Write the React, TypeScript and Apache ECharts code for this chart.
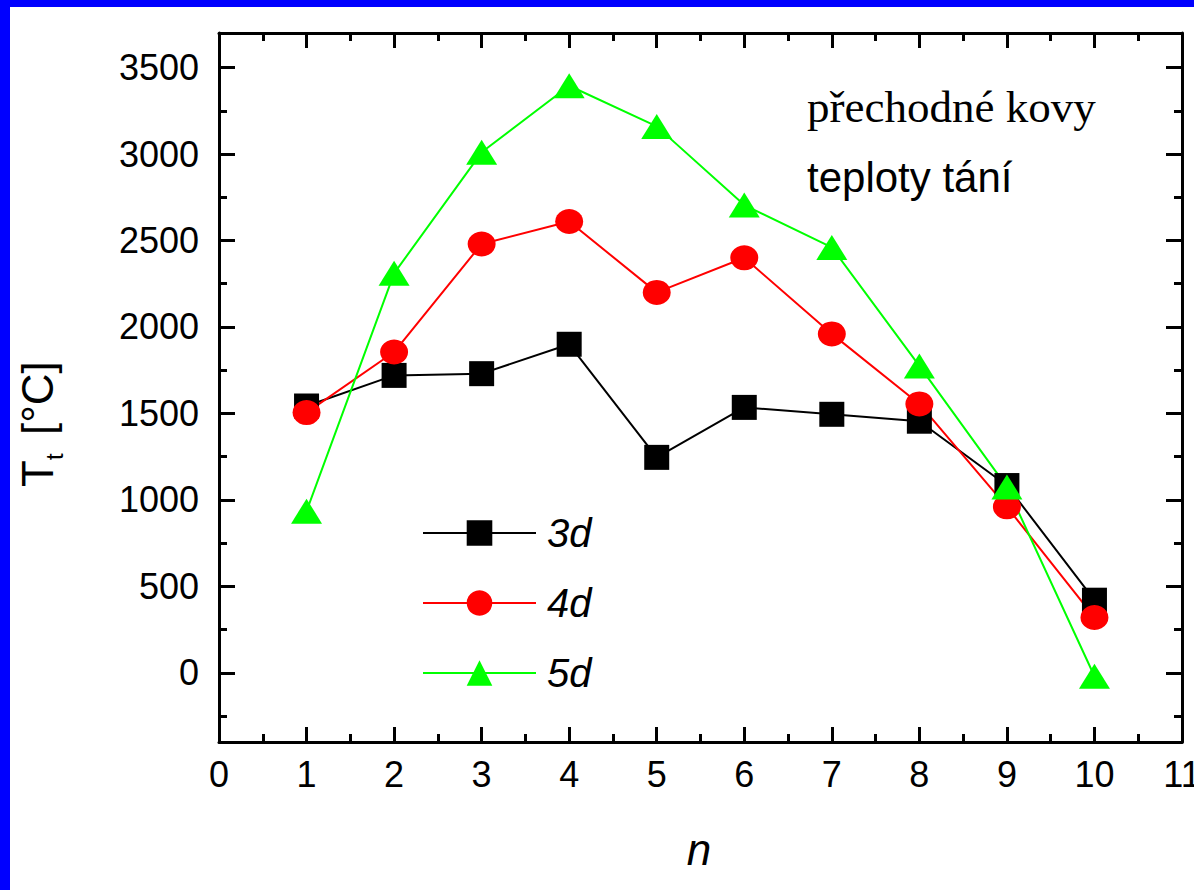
import React, { useEffect, useRef } from "react";
import * as echarts from "echarts";

const nValues = [1, 2, 3, 4, 5, 6, 7, 8, 9, 10];
const temp3d = [1543, 1720, 1730, 1900, 1246, 1535, 1495, 1455, 1083, 420];
const temp4d = [1505, 1855, 2480, 2610, 2200, 2400, 1960, 1555, 960, 320];
const temp5d = [935, 2310, 3010, 3395, 3160, 2705, 2460, 1775, 1075, -20];
const seriesNames = ["3d", "4d", "5d"];
const seriesColors = ["#000000", "#FF0000", "#00FF00"];

const FONT = "Liberation Sans";

export default function App() {
  const ref = useRef<HTMLDivElement>(null);
  useEffect(() => {
    if (!ref.current) return;
    const chart = echarts.init(ref.current, undefined, { renderer: "svg" });
    const axisLine = { show: true, onZero: false, lineStyle: { color: "#000", width: 3 } };
    const noLine = { show: false, onZero: false };
    const majorX = { show: true, inside: true, length: 15, lineStyle: { color: "#000", width: 3 } };
    const minorX = { show: true, splitNumber: 2, length: 8, lineStyle: { color: "#000", width: 3 } };
    const yBase = { type: "value", min: -400, max: 3700, splitLine: { show: false } };
    const pairs = (ys: number[]) => nValues.map((n, i) => [n, ys[i]]);
    const option: any = {
      animation: false,
      backgroundColor: "#fff",
      textStyle: { fontFamily: FONT },
      grid: { left: 219, right: 12, top: 33, bottom: 148, outerBoundsMode: "none", containLabel: false },
      xAxis: [
        {
          type: "value", position: "bottom", min: 0, max: 11, interval: 1,
          axisLine, axisTick: majorX, minorTick: minorX, splitLine: { show: false },
          axisLabel: { fontSize: 36, color: "#000", fontFamily: FONT, margin: 14 },
        },
        {
          type: "value", position: "top", min: 0, max: 11, interval: 1,
          axisLine, axisTick: majorX, minorTick: minorX, splitLine: { show: false },
          axisLabel: { show: false },
        },
      ],
      yAxis: [
        {
          ...yBase, position: "left", minInterval: 500, maxInterval: 500,
          axisLine, axisTick: { show: true, inside: true, length: 16, lineStyle: { color: "#000", width: 3 } },
          axisLabel: {
            fontSize: 36, color: "#000", fontFamily: FONT, margin: 20,
            formatter: (v: number) => (v % 500 === 0 ? String(v) : ""),
          },
        },
        {
          ...yBase, position: "left", minInterval: 250, maxInterval: 250,
          axisLine: noLine,
          axisTick: { show: true, inside: true, length: 8, lineStyle: { color: "#000", width: 3 } },
          axisLabel: { show: false },
        },
        {
          ...yBase, position: "right", minInterval: 500, maxInterval: 500,
          axisLine, axisTick: { show: true, inside: true, length: 16, lineStyle: { color: "#000", width: 3 } },
          axisLabel: { show: false },
        },
        {
          ...yBase, position: "right", minInterval: 250, maxInterval: 250,
          axisLine: noLine,
          axisTick: { show: true, inside: true, length: 8, lineStyle: { color: "#000", width: 3 } },
          axisLabel: { show: false },
        },
      ],
      legend: {
        orient: "vertical", left: 417, top: 508, itemWidth: 113, itemHeight: 32, itemGap: 30,
        data: seriesNames,
        textStyle: { fontSize: 40, fontStyle: "italic", color: "#000", fontFamily: FONT, padding: [0, 0, 0, 6] },
      },
      series: [
        {
          name: seriesNames[0], type: "line", data: pairs(temp3d), symbol: "rect", symbolSize: 25,
          lineStyle: { width: 2, color: seriesColors[0] }, itemStyle: { color: seriesColors[0] },
        },
        {
          name: seriesNames[1], type: "line", data: pairs(temp4d), symbol: "circle", symbolSize: [28, 25],
          lineStyle: { width: 2, color: seriesColors[1] }, itemStyle: { color: seriesColors[1] },
        },
        {
          name: seriesNames[2], type: "line", data: pairs(temp5d), symbol: "triangle", symbolSize: [31, 25],
          lineStyle: { width: 2, color: seriesColors[2] }, itemStyle: { color: seriesColors[2] },
        },
      ],
      graphic: [
        { type: "rect", left: 0, top: 0, shape: { width: 1194, height: 7 }, style: { fill: "#0000FF" }, silent: true },
        { type: "rect", left: 0, top: 0, shape: { width: 10, height: 890 }, style: { fill: "#0000FF" }, silent: true },
        {
          type: "text", x: 807, y: 107,
          style: { text: "přechodné kovy", fontFamily: "Liberation Serif", fontSize: 45, fill: "#000", align: "left", verticalAlign: "middle" },
        },
        {
          type: "text", x: 807, y: 177,
          style: { text: "teploty tání", fontFamily: FONT, fontSize: 42, fill: "#000", align: "left", verticalAlign: "middle" },
        },
        {
          type: "text", x: 699, y: 849,
          style: { text: "n", fontFamily: FONT, fontSize: 44, fontStyle: "italic", fill: "#000", align: "center", verticalAlign: "middle" },
        },
        {
          type: "group", x: 52, y: 487, rotation: Math.PI / 2,
          children: [
            { type: "text", x: 0, y: -15, style: { text: "T", fontFamily: FONT, fontSize: 44, fill: "#000", align: "left", verticalAlign: "middle" } },
            { type: "text", x: 27, y: 2, style: { text: "t", fontFamily: FONT, fontSize: 24, fill: "#000", align: "left", verticalAlign: "middle" } },
            { type: "text", x: 52, y: -15, style: { text: "[°C]", fontFamily: FONT, fontSize: 44, fill: "#000", align: "left", verticalAlign: "middle" } },
          ],
        },
      ],
    };
    chart.setOption(option);
    return () => chart.dispose();
  }, []);
  return (
    <div
      ref={ref}
      style={{ position: "fixed", left: 0, top: 0, width: 1194, height: 890, background: "#fff" }}
    />
  );
}
